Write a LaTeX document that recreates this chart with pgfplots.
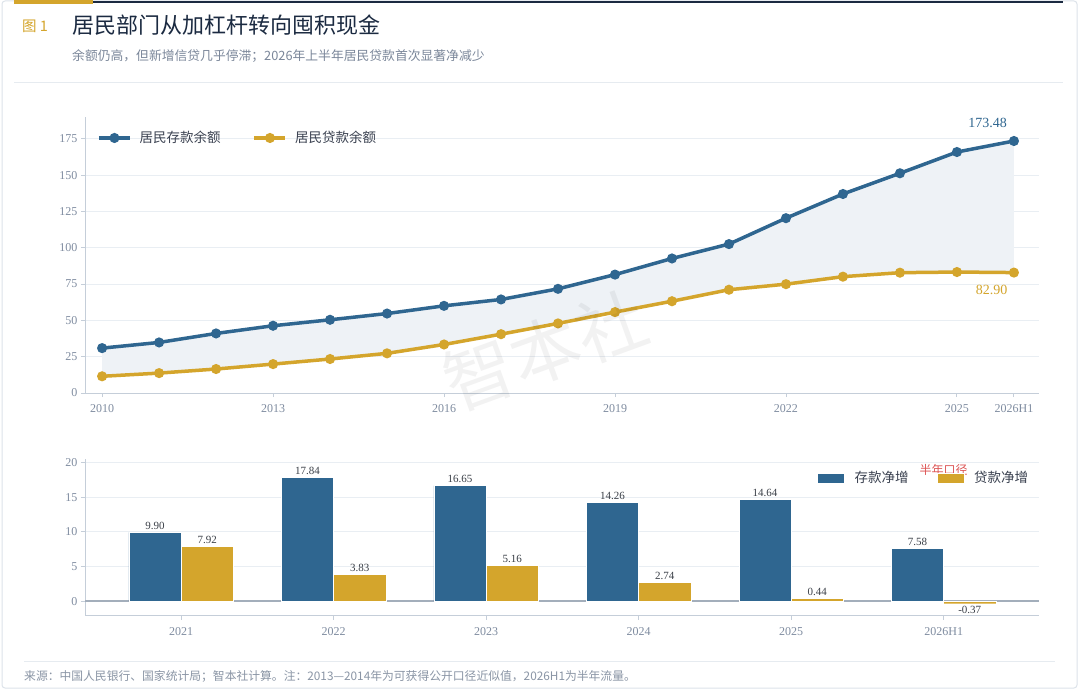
\documentclass[border=0pt]{standalone}
\usepackage{fontspec}
\setmainfont{Liberation Serif}
\newfontfamily\cjk{Noto Sans CJK SC}
\usepackage{pgfplots}
\pgfplotsset{compat=1.18}
\definecolor{blueS}{HTML}{2F6690}
\definecolor{goldS}{HTML}{D4A52C}
\definecolor{navyc}{HTML}{1B2A41}
\definecolor{subc}{HTML}{7B879A}
\definecolor{tickc}{HTML}{7F8CA0}
\definecolor{gridc}{HTML}{E9EEF3}
\definecolor{axisc}{HTML}{C5CED9}
\definecolor{zeroc}{HTML}{A3AEBB}
\definecolor{fillc}{HTML}{EEF2F6}
\definecolor{framec}{HTML}{DDE3EA}
\definecolor{sepc}{HTML}{E6EBF0}
\definecolor{labc}{HTML}{3A3F47}
\definecolor{redc}{HTML}{DD5555}
\definecolor{footc}{HTML}{8A95A5}
\definecolor{legc}{HTML}{3A4150}
\begin{document}
\begin{tikzpicture}
\useasboundingbox (0pt,0pt) rectangle (1080pt,-690pt);
\fill[white] (0pt,0pt) rectangle (1080pt,-690pt);
\draw[framec, line width=1pt, rounded corners=3pt] (2pt,-1pt) rectangle (1077pt,-688pt);
\fill[goldS] (14pt,0pt) rectangle (93pt,-4pt);
\fill[navyc] (93pt,-1pt) rectangle (1063pt,-3.5pt);
\draw[sepc, line width=1pt] (14pt,-83pt) -- (1063pt,-83pt);
\draw[sepc, line width=1pt] (24pt,-661pt) -- (1055pt,-661pt);
\node[anchor=base west, inner sep=0pt, text=goldS, font=\cjk\fontsize{14.5}{16}\selectfont] at (22pt,-31.3pt) {图 1};
\node[anchor=base west, inner sep=0pt, text=navyc, font=\cjk\fontsize{22}{26}\selectfont] at (72pt,-33.4pt) {居民部门从加杠杆转向囤积现金};
\node[anchor=base west, inner sep=0pt, text=subc, font=\cjk\fontsize{12.8}{15}\selectfont] at (72pt,-61pt) {余额仍高，但新增信贷几乎停滞；2026年上半年居民贷款首次显著净减少};
\node[anchor=base west, inner sep=0pt, text=footc, font=\cjk\fontsize{11.8}{13}\selectfont] at (24pt,-680.4pt) {来源：中国人民银行、国家统计局；智本社计算。注：2013—2014年为可获得公开口径近似值，2026H1为半年流量。};

% ---------- top chart ----------
\begin{axis}[
  at={(85pt,-393pt)}, anchor=south west, scale only axis,
  width=954pt, height=276pt,
  xmin=2009.7, xmax=2026.44, ymin=0, ymax=190,
  axis lines*=left,
  axis line style={color=axisc, line width=1pt},
  xtick={2010,2013,2016,2019,2022,2025,2026},
  xticklabels={2010,2013,2016,2019,2022,2025,2026H1},
  ytick={0,25,50,75,100,125,150,175},
  ymajorgrids, grid style={color=gridc, line width=0.9pt},
  tick style={color=axisc, line width=0.9pt}, tick align=outside,
  major tick length=4pt,
  ticklabel style={font=\fontsize{12}{14}\selectfont, text=tickc},
  xticklabel style={yshift=-3.5pt},
  /pgf/number format/assume math mode=true,
  legend style={draw=none, fill=none, inner sep=0pt, at={(0.0126,0.924)}, anchor=west,
    font=\cjk\fontsize{13.5}{15}\selectfont, text=legc,
    /tikz/every odd column/.append style={column sep=6pt},
    /tikz/every even column/.append style={column sep=30pt}},
  legend columns=2, legend cell align=left,
  legend image code/.code={\draw[#1, mark repeat=2, mark phase=2] plot coordinates {(0pt,0pt) (15.5pt,0pt) (31pt,0pt)};},
]
\addplot[fill=fillc, draw=none, forget plot] coordinates {
 (2010,30.9) (2011,34.8) (2012,41.0) (2013,46.3) (2014,50.4) (2015,54.7) (2016,60.0) (2017,64.4) (2018,71.7)
 (2019,81.5) (2020,92.61) (2021,102.51) (2022,120.35) (2023,137.0) (2024,151.26) (2025,165.90) (2026,173.48)
 (2026,82.90) (2025,83.27) (2024,82.83) (2023,80.09) (2022,74.93) (2021,71.10) (2020,63.18) (2019,55.7)
 (2018,47.9) (2017,40.5) (2016,33.4) (2015,27.3) (2014,23.4) (2013,19.9) (2012,16.5) (2011,13.7) (2010,11.5)} -- cycle;
\addplot[blueS, line width=3.5pt, mark=*, mark size=3.2pt, mark options={solid, fill=blueS, draw=blueS}] coordinates {
 (2010,30.9) (2011,34.8) (2012,41.0) (2013,46.3) (2014,50.4) (2015,54.7) (2016,60.0) (2017,64.4) (2018,71.7)
 (2019,81.5) (2020,92.61) (2021,102.51) (2022,120.35) (2023,137.0) (2024,151.26) (2025,165.90) (2026,173.48)};
\addlegendentry{居民存款余额}
\addplot[goldS, line width=3.5pt, mark=*, mark size=3.2pt, mark options={solid, fill=goldS, draw=goldS}] coordinates {
 (2010,11.5) (2011,13.7) (2012,16.5) (2013,19.9) (2014,23.4) (2015,27.3) (2016,33.4) (2017,40.5) (2018,47.9)
 (2019,55.7) (2020,63.18) (2021,71.10) (2022,74.93) (2023,80.09) (2024,82.83) (2025,83.27) (2026,82.90)};
\addlegendentry{居民贷款余额}
\node[text=blueS, font=\fontsize{14}{16}\selectfont] at (axis cs:2025.54,186.0) {173.48};
\node[text=goldS, font=\fontsize{14}{16}\selectfont] at (axis cs:2025.61,71.0) {82.90};
\node[rotate=90, text=legc, font=\cjk\fontsize{13.5}{15}\selectfont] at (axis description cs:-0.042,0.496) {万亿元};
\end{axis}

% watermark
\node[rotate=20, text=black, opacity=0.05, font=\cjk\fontsize{70}{80}\selectfont] at (545pt,-350pt) {智本社};

% ---------- bottom chart ----------
\begin{axis}[
  at={(85pt,-615.7pt)}, anchor=south west, scale only axis,
  width=954pt, height=156.7pt,
  xmin=-0.63, xmax=5.625, ymin=-2.1, ymax=20.5,
  ybar, bar width=0.342,
  axis lines*=left,
  axis line style={color=axisc, line width=1pt},
  xtick={0,1,2,3,4,5},
  xticklabels={2021,2022,2023,2024,2025,2026H1},
  ytick={5,10,15,20},
  extra y ticks={0},
  extra y tick style={major grid style={color=zeroc, line width=1.3pt}},
  ymajorgrids, grid style={color=gridc, line width=0.9pt},
  tick style={color=axisc, line width=0.9pt}, tick align=outside,
  major tick length=4pt,
  ticklabel style={font=\fontsize{12}{14}\selectfont, text=tickc},
  xticklabel style={yshift=-4pt},
  /pgf/number format/assume math mode=true,
  nodes near coords={\pgfmathprintnumber[fixed,fixed zerofill,precision=2]{\pgfplotspointmeta}},
  nodes near coords style={font=\fontsize{11}{12}\selectfont, text=labc, inner sep=2.5pt},
  legend style={draw=none, fill=none, inner sep=0pt, at={(0.7673,0.879)}, anchor=west,
    font=\cjk\fontsize{13.5}{15}\selectfont, text=legc,
    /tikz/every odd column/.append style={column sep=8pt},
    /tikz/every even column/.append style={column sep=26pt}},
  legend columns=2, legend cell align=left,
  legend image code/.code={\fill[#1] (0pt,-5pt) rectangle (27pt,5pt);},
]
\addplot[fill=blueS, draw=white, line width=0.4pt, bar shift=-0.171] coordinates {
 (0,9.90) (1,17.84) (2,16.65) (3,14.26) (4,14.64) (5,7.58)};
\addlegendentry{存款净增}
\addplot[fill=goldS, draw=white, line width=0.4pt, bar shift=0.171] coordinates {
 (0,7.92) (1,3.83) (2,5.16) (3,2.74) (4,0.44) (5,-0.37)};
\addlegendentry{贷款净增}
\node[text=redc, font=\cjk\fontsize{12}{14}\selectfont] at (axis cs:5,18.9) {半年口径};
\node[rotate=90, text=legc, font=\cjk\fontsize{13.5}{15}\selectfont] at (axis description cs:-0.0335,0.496) {万亿元 / 期};
\end{axis}
\end{tikzpicture}
\end{document}
